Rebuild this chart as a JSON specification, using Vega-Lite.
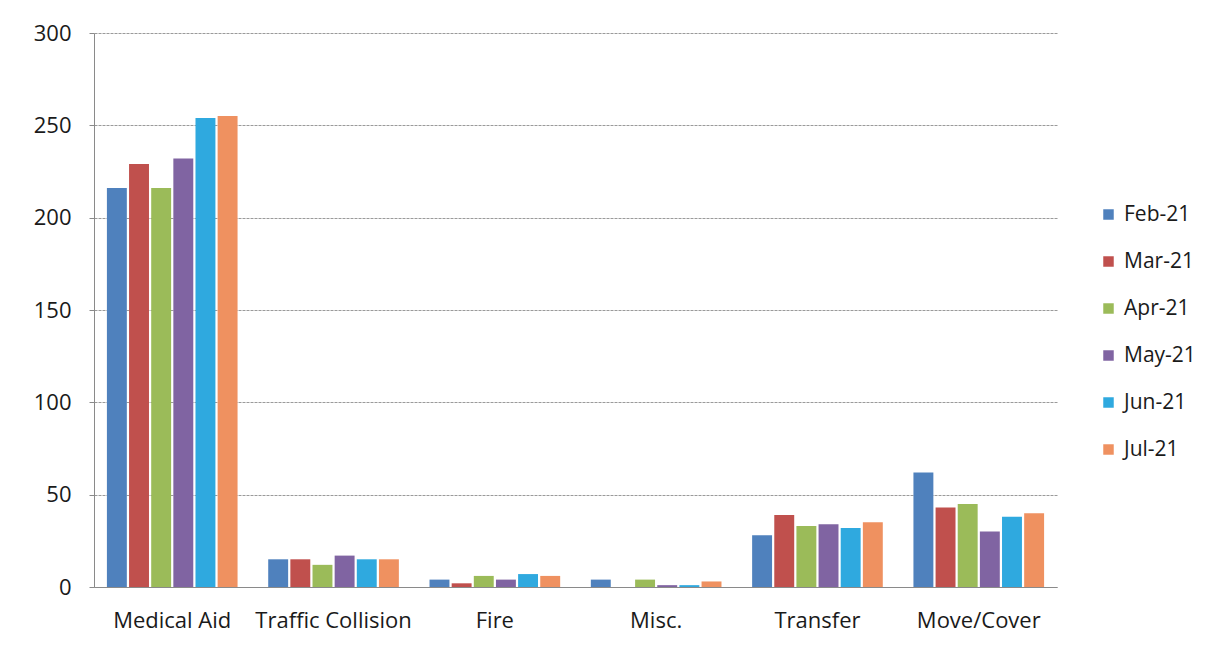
{
  "$schema": "https://vega.github.io/schema/vega-lite/v6.json",
  "width": 963,
  "height": 554,
  "autosize": {"type": "none"},
  "padding": {"left": 94, "top": 33, "right": 159, "bottom": 62},
  "background": "white",
  "config": {
    "font": "Open Sans",
    "view": {"stroke": null}
  },
  "data": {
    "values": [
      {"category": "Medical Aid", "month": "Feb-21", "value": 216},
      {"category": "Medical Aid", "month": "Mar-21", "value": 229},
      {"category": "Medical Aid", "month": "Apr-21", "value": 216},
      {"category": "Medical Aid", "month": "May-21", "value": 232},
      {"category": "Medical Aid", "month": "Jun-21", "value": 254},
      {"category": "Medical Aid", "month": "Jul-21", "value": 255},
      {"category": "Traffic Collision", "month": "Feb-21", "value": 15},
      {"category": "Traffic Collision", "month": "Mar-21", "value": 15},
      {"category": "Traffic Collision", "month": "Apr-21", "value": 12},
      {"category": "Traffic Collision", "month": "May-21", "value": 17},
      {"category": "Traffic Collision", "month": "Jun-21", "value": 15},
      {"category": "Traffic Collision", "month": "Jul-21", "value": 15},
      {"category": "Fire", "month": "Feb-21", "value": 4},
      {"category": "Fire", "month": "Mar-21", "value": 2},
      {"category": "Fire", "month": "Apr-21", "value": 6},
      {"category": "Fire", "month": "May-21", "value": 4},
      {"category": "Fire", "month": "Jun-21", "value": 7},
      {"category": "Fire", "month": "Jul-21", "value": 6},
      {"category": "Misc.", "month": "Feb-21", "value": 4},
      {"category": "Misc.", "month": "Mar-21", "value": 0},
      {"category": "Misc.", "month": "Apr-21", "value": 4},
      {"category": "Misc.", "month": "May-21", "value": 1},
      {"category": "Misc.", "month": "Jun-21", "value": 1},
      {"category": "Misc.", "month": "Jul-21", "value": 3},
      {"category": "Transfer", "month": "Feb-21", "value": 28},
      {"category": "Transfer", "month": "Mar-21", "value": 39},
      {"category": "Transfer", "month": "Apr-21", "value": 33},
      {"category": "Transfer", "month": "May-21", "value": 34},
      {"category": "Transfer", "month": "Jun-21", "value": 32},
      {"category": "Transfer", "month": "Jul-21", "value": 35},
      {"category": "Move/Cover", "month": "Feb-21", "value": 62},
      {"category": "Move/Cover", "month": "Mar-21", "value": 43},
      {"category": "Move/Cover", "month": "Apr-21", "value": 45},
      {"category": "Move/Cover", "month": "May-21", "value": 30},
      {"category": "Move/Cover", "month": "Jun-21", "value": 38},
      {"category": "Move/Cover", "month": "Jul-21", "value": 40}
    ]
  },
  "mark": {"type": "bar"},
  "encoding": {
    "x": {
      "field": "category",
      "type": "nominal",
      "sort": ["Medical Aid", "Traffic Collision", "Fire", "Misc.", "Transfer", "Move/Cover"],
      "scale": {"paddingInner": 0.19, "paddingOuter": 0.08},
      "axis": {
        "title": null,
        "labelAngle": 0,
        "labelFontSize": 22,
        "labelColor": "#1a1a1a",
        "labelPadding": 23,
        "domainColor": "#8a8a8a",
        "ticks": false,
        "grid": false
      }
    },
    "xOffset": {
      "field": "month",
      "type": "nominal",
      "sort": ["Feb-21", "Mar-21", "Apr-21", "May-21", "Jun-21", "Jul-21"],
      "scale": {"paddingInner": 0.1}
    },
    "y": {
      "field": "value",
      "type": "quantitative",
      "scale": {"domain": [0, 300], "nice": false},
      "axis": {
        "title": null,
        "values": [0, 50, 100, 150, 200, 250, 300],
        "labelFontSize": 22,
        "labelColor": "#1a1a1a",
        "labelPadding": 18,
        "tickSize": 5,
        "tickColor": "#8a8a8a",
        "domainColor": "#8a8a8a",
        "gridColor": "#9a9a9a",
        "gridDash": [3, 1],
        "gridWidth": 1
      }
    },
    "color": {
      "field": "month",
      "type": "nominal",
      "sort": ["Feb-21", "Mar-21", "Apr-21", "May-21", "Jun-21", "Jul-21"],
      "scale": {
        "domain": ["Feb-21", "Mar-21", "Apr-21", "May-21", "Jun-21", "Jul-21"],
        "range": ["#4F81BD", "#C0504D", "#9BBB59", "#8064A2", "#2FA9DF", "#EF9160"]
      },
      "legend": {
        "title": null,
        "orient": "none",
        "legendX": 1004,
        "legendY": 171,
        "symbolType": "square",
        "symbolSize": 110,
        "symbolStrokeWidth": 0,
        "labelFontSize": 21,
        "labelColor": "#1a1a1a",
        "labelOffset": 5,
        "rowPadding": 25
      }
    }
  }
}
